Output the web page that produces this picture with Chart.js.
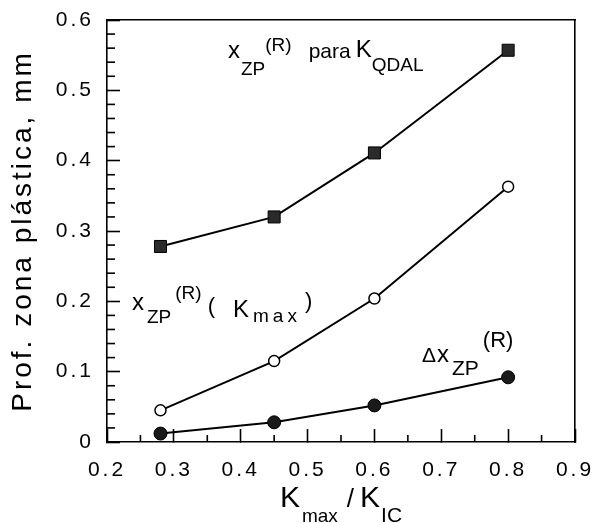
<!DOCTYPE html>
<html>
<head>
<meta charset="utf-8">
<script src="https://cdn.jsdelivr.net/npm/chart.js@4.4.1/dist/chart.umd.min.js"></script>
<style>
  html, body { margin: 0; padding: 0; background: #fff; }
</style>
</head>
<body>
<canvas id="chart" width="598" height="523"></canvas>
<script>
// data
const kRatio = [0.28, 0.45, 0.6, 0.8];
const xzpQdal = [0.278, 0.320, 0.411, 0.557];
const xzpKmax = [0.045, 0.115, 0.204, 0.363];
const deltaXzp = [0.012, 0.028, 0.052, 0.092];
const xTicks = [0.2, 0.3, 0.4, 0.5, 0.6, 0.7, 0.8, 0.9];
const yTicks = [0, 0.1, 0.2, 0.3, 0.4, 0.5, 0.6];
const yTitle = 'Prof. zona plástica, mm';

const FONT = "'Liberation Sans', Arial, Helvetica, sans-serif";

function pts(ys) {
  return kRatio.map((k, i) => ({ x: k, y: ys[i] }));
}

// labels with sub/superscripts: t text, s size, dy baseline shift, dx gap before, ls letter spacing
const notes = [
  { x: 0.381, y: 0.546, parts: [
    { t: 'x', s: 24 },
    { t: 'ZP', s: 19, dy: 17, dx: 1 },
    { t: '(R)', s: 19, dy: -7 },
    { t: 'para', s: 21, dx: 17 },
    { t: 'K', s: 24, dy: -1, dx: 5 },
    { t: 'QDAL', s: 19, dy: 13 }
  ]},
  { x: 0.2374, y: 0.1878, parts: [
    { t: 'x', s: 24 },
    { t: 'ZP', s: 19, dy: 13, dx: 3 },
    { t: '(R)', s: 19, dy: -11, dx: 4 },
    { t: '(', s: 22, dy: 3, dx: 6 },
    { t: 'K', s: 24, dy: 7, dx: 18 },
    { t: 'max', s: 19, dy: 12, dx: 4, ls: 4 },
    { t: ')', s: 22, dy: -2, dx: 4 }
  ]},
  { x: 0.6711, y: 0.1138, parts: [
    { t: 'Δ', s: 21 },
    { t: 'x', s: 24, dx: 1 },
    { t: 'ZP', s: 21, dy: 13, dx: 3 },
    { t: '(R)', s: 22, dy: -15, dx: 4 }
  ]}
];

const xTitleParts = [
  { t: 'K', s: 30 },
  { t: 'max', s: 19, dy: 15, dx: 2 },
  { t: '/', s: 26, dx: 9 },
  { t: 'K', s: 30, dx: 6 },
  { t: 'IC', s: 21, dy: 15, dx: 1 }
];

function drawRich(c, x, y, parts, center) {
  let w = 0;
  parts.forEach(p => {
    c.font = p.s + 'px ' + FONT;
    c.letterSpacing = (p.ls || 0) + 'px';
    w += (p.dx || 0) + c.measureText(p.t).width;
  });
  let cx = center ? x - w / 2 : x;
  parts.forEach(p => {
    c.font = p.s + 'px ' + FONT;
    c.letterSpacing = (p.ls || 0) + 'px';
    cx += p.dx || 0;
    c.fillText(p.t, cx, y + (p.dy || 0));
    cx += c.measureText(p.t).width;
  });
  c.letterSpacing = '0px';
}

// short inward minor ticks (major ticks and frame come from the axes)
function drawMinor(chart) {
  const c = chart.ctx;
  const a = chart.chartArea;
  const sx = chart.scales.x;
  const sy = chart.scales.y;
  const lw = 1.6;
  c.save();
  c.fillStyle = '#000';
  for (let i = 0; i < xTicks.length - 1; i++) {
    const m = sx.getPixelForValue((xTicks[i] + xTicks[i + 1]) / 2);
    c.fillRect(m - lw / 2, a.bottom - 7, lw, 7);
  }
  for (let i = 0; i < yTicks.length - 1; i++) {
    for (let k = 1; k < 5; k++) {
      const m = sy.getPixelForValue(yTicks[i] + (yTicks[i + 1] - yTicks[i]) * k / 5);
      c.fillRect(a.left, m - lw / 2, 8, lw);
    }
  }
  c.restore();
}

const decor = {
  id: 'decor',
  beforeDraw(chart) { chart.ctx.letterSpacing = '3px'; },
  afterDraw(chart) {
    const c = chart.ctx;
    const a = chart.chartArea;
    c.letterSpacing = '0px';
    drawMinor(chart);
    c.save();
    c.fillStyle = '#000';
    c.textAlign = 'left';
    c.textBaseline = 'alphabetic';
    notes.forEach(n => {
      drawRich(c, chart.scales.x.getPixelForValue(n.x), chart.scales.y.getPixelForValue(n.y), n.parts, false);
    });
    drawRich(c, (a.left + a.right) / 2, a.bottom + 65, xTitleParts, true);
    c.restore();
  }
};

// the axes keep no extra overflow room for their end labels
function noPad(s) {
  s.paddingTop = 0;
  s.paddingBottom = 0;
  s.paddingLeft = 0;
  s.paddingRight = 0;
}

const tickGrid = {
  display: true,
  drawOnChartArea: false,
  drawTicks: true,
  tickLength: -13,
  tickWidth: 1.6,
  tickColor: '#000'
};
const edge = { display: true, color: '#000', width: 1.6 };

var ctx = document.getElementById('chart').getContext('2d');
var lineChart = new Chart(ctx, {
  type: 'line',
  data: {
    datasets: [
      {
        data: pts(xzpQdal),
        borderColor: '#000',
        borderWidth: 2,
        pointStyle: 'rect',
        pointRadius: 8.5,
        pointBackgroundColor: '#2a2a2a',
        pointBorderColor: '#000',
        pointBorderWidth: 1
      },
      {
        data: pts(xzpKmax),
        borderColor: '#000',
        borderWidth: 2,
        pointStyle: 'circle',
        pointRadius: 5.5,
        pointBackgroundColor: '#fff',
        pointBorderColor: '#000',
        pointBorderWidth: 1.5
      },
      {
        data: pts(deltaXzp),
        borderColor: '#000',
        borderWidth: 2,
        pointStyle: 'circle',
        pointRadius: 6.5,
        pointBackgroundColor: '#1a1a1a',
        pointBorderColor: '#000',
        pointBorderWidth: 1
      }
    ]
  },
  options: {
    responsive: false,
    animation: false,
    layout: { padding: 0 },
    plugins: { legend: { display: false }, tooltip: { enabled: false } },
    scales: {
      x: {
        type: 'linear',
        position: 'bottom',
        min: 0.2,
        max: 0.9,
        grid: tickGrid,
        border: edge,
        afterBuildTicks: s => { s.ticks = xTicks.map(v => ({ value: v })); },
        afterFit: s => { s.height = 81; noPad(s); },
        ticks: {
          color: '#000',
          padding: 29,
          autoSkip: false,
          maxRotation: 0,
          font: { family: FONT, size: 21 }
        }
      },
      y: {
        position: 'left',
        min: 0,
        max: 0.6,
        grid: tickGrid,
        border: edge,
        afterBuildTicks: s => { s.ticks = yTicks.map(v => ({ value: v })); },
        afterFit: s => { s.width = 107; noPad(s); },
        ticks: {
          color: '#000',
          padding: 26,
          autoSkip: false,
          font: { family: FONT, size: 21 }
        },
        title: {
          display: true,
          text: yTitle,
          color: '#000',
          padding: { top: 6, bottom: 0 },
          font: { family: FONT, size: 28 }
        }
      },
      x2: {
        type: 'linear',
        position: 'top',
        min: 0,
        max: 1,
        grid: { display: false },
        border: edge,
        ticks: { display: false },
        afterFit: s => { s.height = 20; noPad(s); }
      },
      y2: {
        type: 'linear',
        position: 'right',
        min: 0,
        max: 1,
        grid: { display: false },
        border: edge,
        ticks: { display: false },
        afterFit: s => { s.width = 23; noPad(s); }
      }
    }
  },
  plugins: [decor]
});
</script>
</body>
</html>
